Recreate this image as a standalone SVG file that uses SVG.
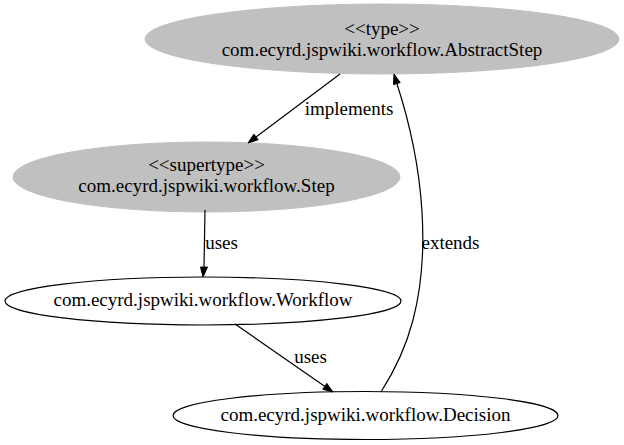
<svg xmlns="http://www.w3.org/2000/svg" width="624" height="445" viewBox="0 0 624 445">
<style>
text{font-family:"Liberation Serif","Times New Roman",serif;font-size:19px;fill:#000;text-anchor:middle}
.g{fill:#c0c0c0;stroke:#c0c0c0}
.w{fill:#fff;stroke:#000;stroke-width:1.2}
.e{fill:none;stroke:#000;stroke-width:1.2}
.a{fill:#000;stroke:#000}
</style>
<rect width="624" height="445" fill="#fff"/>
<g id="AbstractStep">
<ellipse class="g" cx="382" cy="39" rx="237" ry="35"/>
<text x="382" y="35">&lt;&lt;type&gt;&gt;</text>
<text x="382" y="56">com.ecyrd.jspwiki.workflow.AbstractStep</text>
</g>
<g id="Step">
<ellipse class="g" cx="206.5" cy="177" rx="193.5" ry="35"/>
<text x="206.5" y="170.5">&lt;&lt;supertype&gt;&gt;</text>
<text x="206.5" y="191.5">com.ecyrd.jspwiki.workflow.Step</text>
</g>
<g id="Workflow">
<ellipse class="w" cx="203" cy="301" rx="198" ry="24"/>
<text x="203" y="306">com.ecyrd.jspwiki.workflow.Workflow</text>
</g>
<g id="Decision">
<ellipse class="w" cx="365.5" cy="415.5" rx="192.5" ry="24"/>
<text x="365.5" y="420.5">com.ecyrd.jspwiki.workflow.Decision</text>
</g>
<g id="connectors">
<path class="e" d="M340,74 L256,137"/>
<polygon class="a" points="248,143 258.1,139.8 253.9,134.2"/>
<text x="349" y="115">implements</text>
<path class="e" d="M205,210 L204,267"/>
<polygon class="a" points="203,277 200.5,267 207.5,267"/>
<text x="221.5" y="249">uses</text>
<path class="e" d="M235,324 L325,386.5"/>
<polygon class="a" points="333,392 322.8,389.2 326.8,383.4"/>
<text x="310.5" y="363">uses</text>
<path class="e" d="M381,392 C395,370 406.5,345 413,320 C430,255 425,170 397,84"/>
<polygon class="a" points="394,74 400.2,82.6 393.5,84.6"/>
<text x="450.5" y="249">extends</text>
</g>
</svg>
